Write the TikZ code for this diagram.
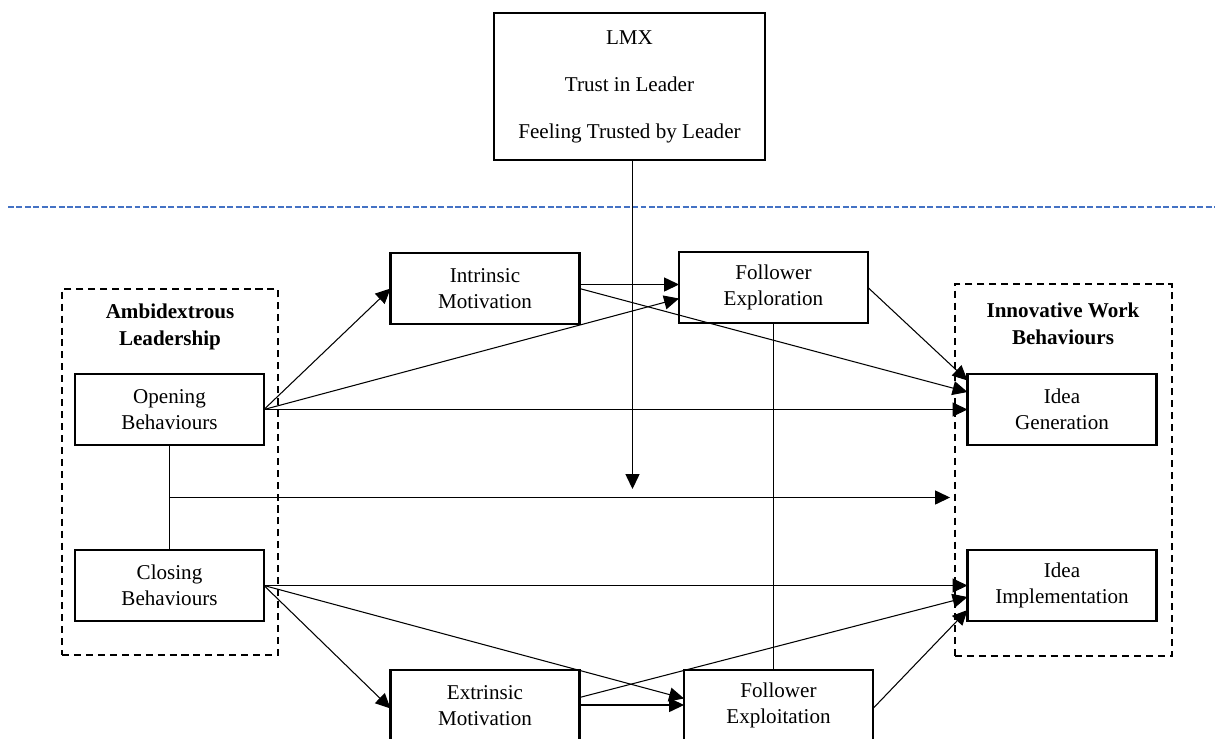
\documentclass[tikz,border=0pt]{standalone}
\usepackage{fontspec}
\setmainfont{Liberation Serif}
\usepackage{tikz}
\usetikzlibrary{calc,arrows.meta}
\definecolor{sepblue}{RGB}{68,114,196}

\tikzset{
  box/.style={draw,line width=1.3pt,inner sep=0pt,outer sep=0pt,align=center,
    minimum width=3.78cm,minimum height=1.41cm,font=\fontsize{12}{14.7}\selectfont},
  groupbox/.style={draw,line width=1.2pt,dash pattern=on 4pt off 2.8pt,inner sep=0pt,outer sep=0pt},
  grouptitle/.style={align=center,font=\fontsize{12}{15.5}\selectfont\bfseries},
  arr/.style={line width=0.6pt,-{Triangle[length=8.5pt,width=8pt]}},
  conn/.style={line width=0.6pt}
}

\begin{document}
\begin{tikzpicture}[x=0.02cm,y=-0.02cm]
\useasboundingbox (0,0) rectangle (1215,738);
\draw[sepblue,line width=0.9pt,dash pattern=on 3.4pt off 1.4pt] (8,207) -- (1215,207);

\node[box,minimum width=5.42cm,minimum height=2.94cm] (lmx) at (629.5,86.5)
  {LMX\\[12pt]Trust in Leader\\[12pt]Feeling Trusted by Leader};

\node[groupbox,minimum width=4.32cm,minimum height=7.32cm] (amb) at (170,472) {};
\node[grouptitle] (ambt) at (170,327) {Ambidextrous\\Leadership};
\node[groupbox,minimum width=4.34cm,minimum height=7.44cm] (innov) at (1063.5,470) {};
\node[grouptitle] (innovt) at (1063,324) {Innovative Work\\Behaviours};

\node[box] (open) at (169.5,409.5) {Opening\\Behaviours};
\node[box] (close) at (169.5,585.5) {Closing\\Behaviours};
\node[box] (gen) at (1062,409.5) {Idea\\Generation};
\node[box] (impl) at (1062,585.5) {Idea\\Implementation};
\node[box] (intr) at (485,288.5) {Intrinsic\\Motivation};
\node[box] (expl) at (773.5,287.5) {Follower\\Exploration};
\node[box] (extr) at (485,705.5) {Extrinsic\\Motivation};
\node[box] (expt) at (778.5,705.5) {Follower\\Exploitation};

\coordinate (mod) at (632.5,489);
\coordinate (mid) at ($(open.south)!0.5!(close.north)$);

\draw[arr] (lmx.south -| mod) -- (mod);
\draw[conn] (open) -- (close);
\draw[arr,shorten >=0.1cm] (mid) -- (mid -| innov.west);
\draw[conn] (expl.south) -- (expl.south |- expt.north);

\draw[arr] (open.east) -- (intr.west);
\draw[arr] (open.east) -- ([yshift=-0.22cm]expl.west);
\draw[arr] (open.east) -- (gen.west);
\draw[arr] ([yshift=0.08cm]intr.east) -- ([yshift=0.08cm]intr.east -| expl.west);
\draw[arr] (intr.east) -- ([yshift=0.35cm]gen.west);
\draw[arr] (expl.east) -- ([yshift=0.58cm]gen.west);

\draw[arr] (close.east) -- (impl.west);
\draw[arr] (close.east) -- ([yshift=-0.06cm]extr.west);
\draw[arr] (close.east) -- ([yshift=0.14cm]expt.west);
\draw[arr] ([yshift=0.01cm]extr.east) -- ([yshift=0.01cm]extr.east -| expt.west);
\draw[arr] ([yshift=0.16cm]extr.east) -- ([yshift=-0.23cm]impl.west);
\draw[arr] ([yshift=-0.06cm]expt.east) -- ([yshift=-0.49cm]impl.west);
\end{tikzpicture}
\end{document}
